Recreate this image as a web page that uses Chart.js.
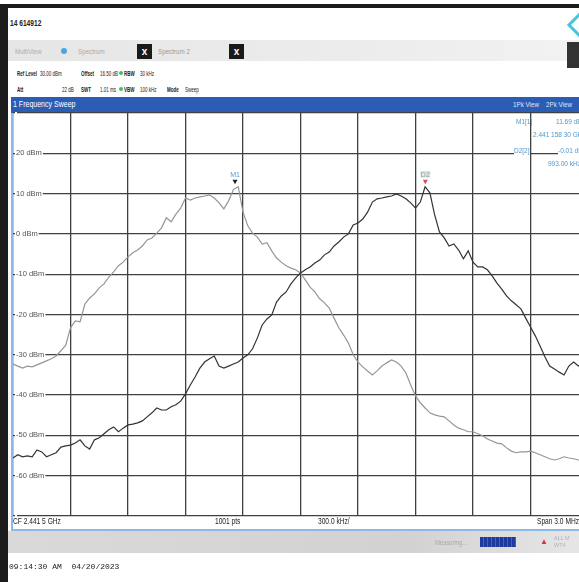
<!DOCTYPE html>
<html><head><meta charset="utf-8">
<script src="https://cdn.jsdelivr.net/npm/chart.js@4.4.0/dist/chart.umd.min.js"></script>
<style>
html,body{margin:0;padding:0;width:579px;height:582px;overflow:hidden;background:#fff;font-family:'Liberation Sans',Arial,sans-serif;}
.a{position:absolute;white-space:nowrap;line-height:1;}
.b{font-weight:bold;}
.n{transform:scaleX(0.78);transform-origin:0 0;}
.h{transform:scaleX(0.6);transform-origin:0 0;font-size:7.5px;color:#222;}
.mk{font-size:6.5px;color:#4f97c9;}
#wrap{position:absolute;left:11px;top:112px;width:580px;height:406px;}
</style></head><body>
<div class="a" style="left:0;top:4px;width:579px;height:4px;background:#1c1c1c"></div>
<div class="a" style="left:0;top:4px;width:8px;height:578px;background:#1c1c1c"></div>
<div class="a b n" style="left:10px;top:19px;font-size:8.5px;color:#222">14 614912</div>
<div class="a" style="left:571px;top:15px;width:14px;height:14px;border:3px solid #45c6da;transform:rotate(45deg)"></div>

<div class="a" style="left:8px;top:40px;width:571px;height:21px;background:linear-gradient(90deg,#e6e6e6,#ececec 60%,#f2f2f2)"></div>
<div class="a n" style="left:15px;top:48px;font-size:8px;color:#9fb0bc">MultiView</div>
<div class="a" style="left:61px;top:48px;width:6px;height:6px;border-radius:3px;background:#49a6e0"></div>
<div class="a n" style="left:78px;top:48px;font-size:8px;color:#aaa">Spectrum</div>
<div class="a b" style="left:137px;top:44px;width:15px;height:15px;background:#1a1a1a;color:#fff;font-size:10px;text-align:center;line-height:15px">x</div>
<div class="a n" style="left:158px;top:48px;font-size:8px;color:#999">Spectrum 2</div>
<div class="a b" style="left:229px;top:44px;width:15px;height:15px;background:#1a1a1a;color:#fff;font-size:10px;text-align:center;line-height:15px">x</div>
<div class="a" style="left:567px;top:42px;width:12px;height:26px;background:#333"></div>

<div class="a h b" style="left:17px;top:70px">Ref Level</div>
<div class="a h" style="left:40px;top:70px">30.00 dBm</div>
<div class="a h b" style="left:81px;top:70px">Offset</div>
<div class="a h" style="left:100px;top:70px">16.50 dB</div>
<div class="a" style="left:119px;top:71px;width:4px;height:4px;border-radius:2px;background:#3fbf5f"></div>
<div class="a h b" style="left:124px;top:70px">RBW</div>
<div class="a h" style="left:140px;top:70px">30 kHz</div>
<div class="a h b" style="left:17px;top:86px">Att</div>
<div class="a h" style="left:62px;top:86px">22 dB</div>
<div class="a h b" style="left:81px;top:86px">SWT</div>
<div class="a h" style="left:100px;top:86px">1.01 ms</div>
<div class="a" style="left:119px;top:87px;width:4px;height:4px;border-radius:2px;background:#3fbf5f"></div>
<div class="a h b" style="left:124px;top:86px">VBW</div>
<div class="a h" style="left:140px;top:86px">100 kHz</div>
<div class="a h b" style="left:167px;top:86px">Mode</div>
<div class="a h" style="left:185px;top:86px">Sweep</div>

<div class="a" style="left:11px;top:97px;width:568px;height:16px;background:#2c5db6"></div>
<div class="a n" style="left:13px;top:100px;font-size:9px;color:#fff">1 Frequency Sweep</div>
<div class="a n" style="left:513px;top:101px;font-size:8px;color:#dfe8f5">1Pk View</div>
<div class="a n" style="left:546px;top:101px;font-size:8px;color:#dfe8f5">2Pk View</div>

<div id="wrap"><canvas id="c"></canvas></div>

<div class="a mk" style="left:516px;top:119px">M1[1]</div>
<div class="a mk" style="left:556px;top:119px">11.69 dBm</div>
<div class="a mk" style="left:533px;top:132px">2.441 158 30 GHz</div>
<div class="a mk" style="left:514px;top:148px;background:#fff">D2[2]</div>
<div class="a mk" style="left:558px;top:148px;background:#fff">-0.01 dB</div>
<div class="a mk" style="left:548px;top:161px">993.00 kHz</div>

<div class="a" style="left:11px;top:113px;width:2px;height:418px;background:#8fb8e6"></div>
<div class="a" style="left:11px;top:529px;width:568px;height:2px;background:#8fb8e6"></div>
<div class="a n" style="left:13px;top:517px;font-size:8.5px;color:#222">CF 2.441 5 GHz</div>
<div class="a n" style="left:215px;top:517px;font-size:8.5px;color:#222">1001 pts</div>
<div class="a n" style="left:318px;top:517px;font-size:8.5px;color:#222">300.0 kHz/</div>
<div class="a n" style="left:537px;top:517px;font-size:8.5px;color:#222">Span 3.0 MHz</div>

<div class="a" style="left:8px;top:531px;width:571px;height:22px;background:linear-gradient(90deg,#d9d9d9,#d2d2d2 70%,#e6e6e6)"></div>
<div class="a n" style="left:435px;top:539px;font-size:7.5px;color:#a8a8a8">Measuring...</div>
<div class="a" style="left:480px;top:537px;width:36px;height:10px;background:repeating-linear-gradient(90deg,#1d3a9c 0 3px,#3b5fd0 3px 4px)"></div>
<div class="a" style="left:540px;top:538px;font-size:8px;color:#e03030">&#9650;</div>
<div class="a" style="left:554px;top:535px;font-size:5.5px;color:#b0b0c0;line-height:7px">ALL M<br>WT4</div>

<div class="a" style="left:9px;top:563px;font-family:'Liberation Mono','DejaVu Sans Mono',monospace;font-size:8px;color:#222">09:14:30 AM&nbsp; 04/20/2023</div>

<script>
const freqMHz = [
2440.000,2440.025,2440.050,2440.075,2440.100,2440.125,2440.150,2440.175,2440.200,2440.225,
2440.250,2440.275,2440.300,2440.325,2440.350,2440.375,2440.400,2440.425,2440.450,2440.475,
2440.500,2440.525,2440.550,2440.575,2440.600,2440.625,2440.650,2440.675,2440.700,2440.725,
2440.750,2440.775,2440.800,2440.825,2440.850,2440.875,2440.900,2440.925,2440.950,2440.975,
2441.000,2441.025,2441.050,2441.075,2441.100,2441.125,2441.150,2441.175,2441.200,2441.225,
2441.250,2441.275,2441.300,2441.325,2441.350,2441.375,2441.400,2441.425,2441.450,2441.475,
2441.500,2441.525,2441.550,2441.575,2441.600,2441.625,2441.650,2441.675,2441.700,2441.725,
2441.750,2441.775,2441.800,2441.825,2441.850,2441.875,2441.900,2441.925,2441.950,2441.975,
2442.000,2442.025,2442.050,2442.075,2442.100,2442.125,2442.150,2442.175,2442.200,2442.225,
2442.250,2442.275,2442.300,2442.325,2442.350,2442.375,2442.400,2442.425,2442.450,2442.475,
2442.500,2442.525,2442.550,2442.575,2442.600,2442.625,2442.650,2442.675,2442.700,2442.725,
2442.750,2442.775,2442.800,2442.825,2442.850,2442.875,2442.900,2442.925,2442.950,2442.975,
2443.000];

const trace1 = [
-32.3,-32.8,-33.3,-32.8,-33.0,-32.5,-32.0,-31.5,-31.0,-30.3,
-29.0,-27.6,-23.3,-21.6,-21.8,-17.4,-15.9,-14.9,-13.4,-12.4,
-10.7,-9.4,-7.9,-7.0,-5.7,-4.7,-4.0,-3.0,-1.5,-1.0,
0.2,1.5,4.0,3.0,4.9,6.4,8.9,8.4,8.9,9.2,
9.4,9.7,8.9,7.7,6.2,8.2,11.0,11.7,5.4,2.0,
0.2,-0.8,-2.5,-2.2,-4.2,-6.0,-7.0,-7.9,-8.5,-8.9,
-9.7,-11.4,-13.2,-14.4,-16.1,-17.1,-18.4,-20.9,-23.3,-25.1,
-27.1,-30.0,-31.8,-33.0,-34.0,-35.0,-34.0,-32.8,-32.0,-31.3,
-31.8,-32.8,-34.5,-37.5,-40.2,-41.9,-43.2,-44.4,-44.9,-45.2,
-45.4,-46.4,-47.4,-48.2,-48.6,-49.1,-49.1,-49.6,-50.1,-50.9,
-51.4,-51.9,-52.1,-53.1,-53.9,-54.3,-54.1,-54.1,-53.9,-54.3,
-54.8,-55.3,-55.8,-56.1,-55.8,-55.3,-55.6,-55.8,-56.1,-56.3,
-56.6];

const trace2 = [
-55.6,-54.8,-55.3,-55.1,-55.3,-53.6,-54.1,-55.3,-54.8,-54.3,
-52.9,-52.6,-52.4,-51.9,-51.1,-52.6,-53.4,-51.1,-50.6,-49.6,
-48.6,-47.9,-49.1,-48.2,-47.4,-47.2,-46.9,-46.4,-45.4,-44.4,
-43.2,-43.7,-43.7,-42.9,-42.4,-41.5,-39.7,-37.5,-35.5,-33.3,
-31.8,-31.0,-30.3,-32.8,-33.3,-32.8,-32.3,-31.8,-30.8,-30.0,
-28.5,-25.8,-22.6,-21.1,-20.1,-16.9,-15.4,-14.4,-12.4,-10.9,
-9.7,-8.9,-8.2,-7.2,-6.5,-5.2,-4.5,-3.0,-2.0,-0.8,
0.0,2.2,2.7,3.7,5.4,7.9,8.7,8.9,9.2,9.4,
9.9,9.4,8.7,7.7,6.4,7.9,11.7,10.2,4.7,0.5,
-1.0,-3.0,-2.5,-4.0,-6.2,-4.2,-7.0,-8.2,-8.2,-8.9,
-10.4,-12.2,-13.7,-15.4,-16.6,-17.6,-18.6,-20.9,-23.1,-25.3,
-27.8,-30.5,-32.8,-33.5,-34.3,-35.0,-32.8,-31.8,-32.8,-32.3,
-31.8];

const xGridMHz = [2440.0,2440.3,2440.6,2440.9,2441.2,2441.5,2441.8,2442.1,2442.4,2442.7,2443.0];
const yTickDbm = [30,20,10,0,-10,-20,-30,-40,-50,-60,-70];
const yTickLabels = ['','20 dBm','10 dBm','0 dBm','-10 dBm','-20 dBm','-30 dBm','-40 dBm','-50 dBm','-60 dBm',''];

const markerNames = ['M1','D2'];
const markerFreqMHz = [2441.1583, 2442.1513];
const markerLevelDbm = [11.69, 11.68];

const markerPlugin = {
  id:'markers',
  afterDatasetsDraw(chart){
    const {ctx, scales:{x,y}} = chart;
    const triCol = ['#222','#e04a4a'];
    const txtCol = ['#5a9ccc','#8aa0a0'];
    markerNames.forEach((name,i)=>{
      const px = x.getPixelForValue(markerFreqMHz[i]);
      const py = y.getPixelForValue(markerLevelDbm[i]);
      ctx.save();
      ctx.fillStyle = triCol[i];
      ctx.beginPath();
      ctx.moveTo(px-2.5, py-7); ctx.lineTo(px+2.5, py-7); ctx.lineTo(px, py-2.5); ctx.closePath(); ctx.fill();
      ctx.font = '7px "Liberation Sans", Arial, sans-serif';
      ctx.textAlign = 'center';
      ctx.textBaseline = 'alphabetic';
      if (i===1){ ctx.fillStyle='rgba(220,225,225,0.8)'; ctx.fillRect(px-5, py-16, 10, 7); }
      ctx.fillStyle = txtCol[i];
      ctx.fillText(name, px, py-10);
      ctx.restore();
    });
  }
};

const noSize = (s)=>{ s.paddingLeft=0; s.paddingRight=0; s.paddingTop=0; s.paddingBottom=0; if (s.isHorizontal()) s.height=0; else s.width=0; };

new Chart(document.getElementById('c'), {
  type:'line',
  data:{
    datasets:[
      {label:'Trace 2', data: freqMHz.map((f,i)=>({x:f,y:trace2[i]})), borderColor:'#333333', borderWidth:1.2, pointRadius:0, tension:0},
      {label:'Trace 1', data: freqMHz.map((f,i)=>({x:f,y:trace1[i]})), borderColor:'#969696', borderWidth:1.2, pointRadius:0, tension:0}
    ]
  },
  options:{
    responsive:true, maintainAspectRatio:false, animation:false,
    layout:{padding:{left:2,right:3,top:1,bottom:2}},
    plugins:{legend:{display:false}, tooltip:{enabled:false}},
    scales:{
      x:{type:'linear', min:2440.0, max:2443.0,
        afterBuildTicks:(s)=>{ s.ticks = xGridMHz.map(v=>({value:v})); },
        afterFit: noSize,
        grid:{color:'#404040', lineWidth:1.3, drawTicks:false},
        border:{display:false},
        ticks:{display:false}},
      y:{type:'linear', min:-70, max:30,
        afterBuildTicks:(s)=>{ s.ticks = yTickDbm.map(v=>({value:v})); },
        afterFit: noSize,
        grid:{color:'#404040', lineWidth:1.3, drawTicks:false},
        border:{display:false},
        ticks:{mirror:true, padding:3, color:'#555',
          font:{family:'"Liberation Sans",Arial,sans-serif', size:7.5},
          showLabelBackdrop:true, backdropColor:'#fff', backdropPadding:{top:0,bottom:0,left:1,right:1},
          callback:(v)=>{ const k=yTickDbm.indexOf(v); return k>=0?yTickLabels[k]:''; }}}
    }
  },
  plugins:[markerPlugin]
});
</script>
</body></html>
